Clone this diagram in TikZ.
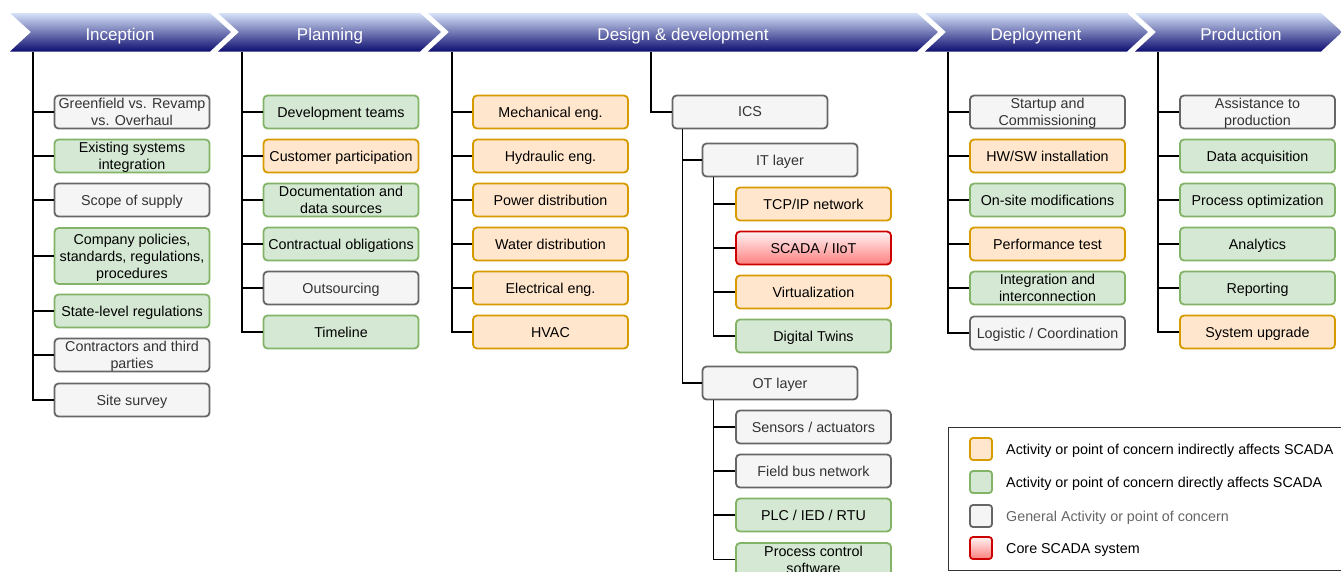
\documentclass[tikz,border=0pt]{standalone}
\usepackage{fontspec}
\setmainfont{Liberation Sans}
\definecolor{genF}{HTML}{F5F5F5}
\definecolor{genD}{HTML}{666666}
\definecolor{genT}{HTML}{333333}
\definecolor{dirF}{HTML}{D5E8D4}
\definecolor{dirD}{HTML}{82B366}
\definecolor{indF}{HTML}{FFE6CC}
\definecolor{indD}{HTML}{D79B00}
\definecolor{coreT}{HTML}{FFF2F2}
\definecolor{coreB}{HTML}{FF8080}
\definecolor{coreD}{HTML}{CC0000}
\definecolor{phT}{HTML}{D6E2F8}
\definecolor{phM}{HTML}{6C7CC0}
\definecolor{phB}{HTML}{0E0E70}
\begin{document}
\begin{tikzpicture}[x=1pt,y=-1pt]
\tikzset{
  box/.style={draw, rounded corners=4pt, line width=1.8pt, minimum width=155pt,
    minimum height=33pt, inner sep=0pt, align=center, text depth=0pt,
    font=\fontsize{14.3}{17}\selectfont, text=black},
  gen/.style={box, draw=genD, fill=genF, text=genT},
  dir/.style={box, draw=dirD, fill=dirF},
  ind/.style={box, draw=indD, fill=indF},
  core/.style={box, draw=coreD, top color=coreT, bottom color=coreB},
  link/.style={line width=1.2pt, draw=black},
  phase/.style={text=white, anchor=base, font=\fontsize{17}{20}\selectfont},
  phaseshade/.style={top color=phT, middle color=phM, bottom color=phB},
  swatch/.style={draw, rounded corners=3pt, line width=1.8pt, minimum width=22pt, minimum height=22pt, inner sep=0pt},
  legtext/.style={anchor=west, text depth=0pt, font=\fontsize{14.3}{17}\selectfont, inner sep=0pt},
}
\useasboundingbox (0,0) rectangle (1341,571);
\clip (0,0) rectangle (1341,571);
\fill[white] (0,0) rectangle (1341,571);

% phase chevrons
\foreach \L/\R in {10/210, 218/420, 428/917, 925/1127, 1135/1321}{
  \shade[phaseshade] (\L,13) -- (\R,13) -- (\R+21,32) -- (\R,51.5) -- (\L,51.5) -- (\L+21,32) -- cycle;
}
\node[phase] (inc) at (120,40) {Inception};
\node[phase] (pla) at (330,40) {Planning};
\node[phase] (des) at (683,40) {Design \& development};
\node[phase] (dep) at (1036,40) {Deployment};
\node[phase] (pro) at (1241,40) {Production};

% trunk starts under each phase
\coordinate (incT) at (33,52);
\coordinate (plaT) at (242,52);
\coordinate (desT) at (452,52);
\coordinate (icsT) at (651,52);
\coordinate (depT) at (948,52);
\coordinate (proT) at (1158,52);

% Inception
\node[gen] (i1) at (132,112) {Greenfield vs. Revamp\\vs. Overhaul};
\node[dir] (i2) at (132,156) {Existing systems\\integration};
\node[gen] (i3) at (132,200) {Scope of supply};
\node[dir, minimum height=56pt] (i4) at (132,256) {Company policies,\\standards, regulations,\\procedures};
\node[dir] (i5) at (132,311) {State-level regulations};
\node[gen] (i6) at (132,355) {Contractors and third\\parties};
\node[gen] (i7) at (132,400) {Site survey};
\foreach \n in {i1,i2,i3,i4,i5,i6,i7} \draw[link] (incT) |- (\n.west);

% Planning
\node[dir] (p1) at (341,112) {Development teams};
\node[ind] (p2) at (341,156) {Customer participation};
\node[dir] (p3) at (341,200) {Documentation and\\data sources};
\node[dir] (p4) at (341,244) {Contractual obligations};
\node[gen] (p5) at (341,288) {Outsourcing};
\node[dir] (p6) at (341,332) {Timeline};
\foreach \n in {p1,p2,p3,p4,p5,p6} \draw[link] (plaT) |- (\n.west);

% Design & development
\node[ind] (d1) at (550.5,112) {Mechanical eng.};
\node[ind] (d2) at (550.5,156) {Hydraulic eng.};
\node[ind] (d3) at (550.5,200) {Power distribution};
\node[ind] (d4) at (550.5,244) {Water distribution};
\node[ind] (d5) at (550.5,288) {Electrical eng.};
\node[ind] (d6) at (550.5,332) {HVAC};
\foreach \n in {d1,d2,d3,d4,d5,d6} \draw[link] (desT) |- (\n.west);

% ICS tree
\node[gen] (ics) at (750,112) {ICS};
\draw[link] (icsT) |- (ics.west);
\node[gen] (it) at (780,160) {IT layer};
\node[gen] (ot) at (780,383) {OT layer};
\draw[link] ([xshift=11pt]ics.south west) |- (it.west);
\draw[link] ([xshift=11pt]ics.south west) |- (ot.west);

\node[ind] (t1) at (813.5,204) {TCP/IP network};
\node[core] (t2) at (813.5,248) {SCADA / IIoT};
\node[ind] (t3) at (813.5,292) {Virtualization};
\node[dir] (t4) at (813.5,336) {Digital Twins};
\foreach \n in {t1,t2,t3,t4} \draw[link] ([xshift=12pt]it.south west) |- (\n.west);

\node[gen] (o1) at (813.5,427) {Sensors / actuators};
\node[gen] (o2) at (813.5,471) {Field bus network};
\node[dir] (o3) at (813.5,515) {PLC / IED / RTU};
\node[dir] (o4) at (813.5,559.5) {Process control\\software};
\foreach \n in {o1,o2,o3,o4} \draw[link] ([xshift=12pt]ot.south west) |- (\n.west);

% Deployment
\node[gen] (e1) at (1047.5,112) {Startup and\\Commissioning};
\node[ind] (e2) at (1047.5,156) {HW/SW installation};
\node[dir] (e3) at (1047.5,200) {On-site modifications};
\node[ind] (e4) at (1047.5,244) {Performance test};
\node[dir] (e5) at (1047.5,288) {Integration and\\interconnection};
\node[gen] (e6) at (1047.5,333) {Logistic / Coordination};
\foreach \n in {e1,e2,e3,e4,e5,e6} \draw[link] (depT) |- (\n.west);

% Production
\node[gen] (r1) at (1257.5,112) {Assistance to\\production};
\node[dir] (r2) at (1257.5,156) {Data acquisition};
\node[dir] (r3) at (1257.5,200) {Process optimization};
\node[dir] (r4) at (1257.5,244) {Analytics};
\node[dir] (r5) at (1257.5,288) {Reporting};
\node[ind] (r6) at (1257.5,332) {System upgrade};
\foreach \n in {r1,r2,r3,r4,r5,r6} \draw[link] (proT) |- (\n.west);

% legend
\draw[line width=1pt, draw=genT] (948,427) rectangle (1360,570);
\node[swatch, draw=indD, fill=indF] (l1) at (981,449) {};
\node[swatch, draw=dirD, fill=dirF] (l2) at (981,482) {};
\node[swatch, draw=genD, fill=genF] (l3) at (981,516) {};
\node[swatch, draw=coreD, top color=coreT, bottom color=coreB] (l4) at (981,548) {};
\node[legtext] at (1006,449) {Activity or point of concern indirectly affects SCADA};
\node[legtext] at (1006,482) {Activity or point of concern directly affects SCADA};
\node[legtext, text=genD] at (1006,516) {General Activity or point of concern};
\node[legtext] at (1006,548) {Core SCADA system};
\end{tikzpicture}
\end{document}
